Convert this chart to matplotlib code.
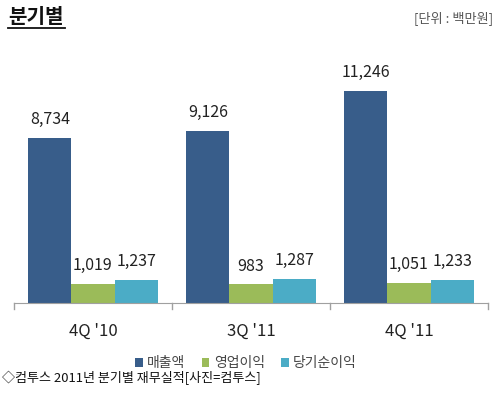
import matplotlib
matplotlib.use("Agg")
import matplotlib.pyplot as plt
import numpy as np
from matplotlib.lines import Line2D

plt.rcParams['font.family'] = ['Noto Sans CJK KR', 'DejaVu Sans']

categories = ["4Q '10", "3Q '11", "4Q '11"]
series_names = ["매출액", "영업이익", "당기순이익"]
sales = [8734, 9126, 11246]
op_income = [1019, 983, 1051]
net_income = [1237, 1287, 1233]
colors = ["#385D8A", "#9BBB59", "#4BACC6"]

fig = plt.figure(figsize=(5.0, 3.94), dpi=100)
ax = fig.add_axes([0.028, 0.231, 0.948, 0.671])

x = np.arange(len(categories))
w = 0.273
series = [sales, op_income, net_income]
for i, (vals, c, name) in enumerate(zip(series, colors, series_names)):
    pos = x + (i - 1) * w
    ax.bar(pos, vals, width=w, color=c, label=name, zorder=2)
    for p, v in zip(pos, vals):
        ax.annotate(f"{v:,}", (p, v), xytext=(0, 7), textcoords="offset points",
                    ha="center", va="bottom", fontsize=11.5, color="#222222")

ax.set_xlim(-0.5, len(categories) - 0.5)
ax.set_ylim(0, 14000)
for s in ["top", "right", "left"]:
    ax.spines[s].set_visible(False)
ax.spines["bottom"].set_color("#A0A0A0")
ax.set_yticks([])
ax.set_xticks(x)
ax.set_xticklabels(categories, fontsize=12, color="#222222")
ax.tick_params(axis="x", length=0, pad=14)
for b in np.arange(-0.5, len(categories), 1.0):
    ax.add_line(Line2D([b, b], [0, -300], color="#A0A0A0", lw=1, clip_on=False))

leg = fig.legend(loc="center", bbox_to_anchor=(0.492, 0.078), ncol=3, frameon=False,
                 fontsize=10, handlelength=0.55, handleheight=0.55, handletextpad=0.3,
                 columnspacing=1.2, labelcolor="#444444")

fig.text(0.016, 0.958, "분기별", fontsize=14.5, fontweight="bold", ha="left", va="center", color="#111111")
fig.add_artist(Line2D([0.016, 0.130], [0.930, 0.930], color="#111111", lw=1.3))
fig.text(0.986, 0.955, "[단위 : 백만원]", fontsize=9.5, ha="right", va="center", color="#555555")
fig.text(0.004, 0.040, "◇컴투스 2011년 분기별 재무실적[사진=컴투스]", fontsize=9.4, ha="left", va="center", color="#111111")

fig.savefig("out.png", dpi=100, facecolor="white")
